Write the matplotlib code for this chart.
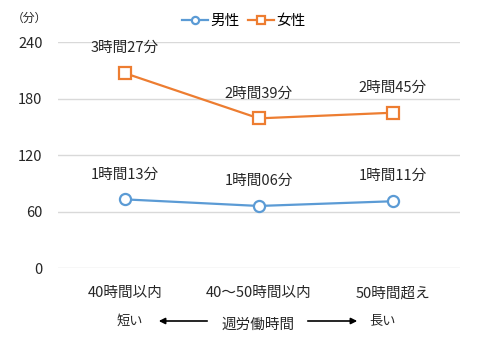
import matplotlib
matplotlib.use("Agg")
import matplotlib.pyplot as plt

plt.rcParams['font.family'] = ['Noto Sans CJK JP', 'DejaVu Sans']

categories = ["40時間以内", "40～50時間以内", "50時間超え"]
male = [73, 66, 71]
female = [207, 159, 165]
male_labels = ["1時間13分", "1時間06分", "1時間11分"]
female_labels = ["3時間27分", "2時間39分", "2時間45分"]
yticks = [0, 60, 120, 180, 240]

blue = "#5B9BD5"
orange = "#ED7D31"
txt = "#262626"

fig = plt.figure(figsize=(4.78, 3.42), dpi=100)
ax = fig.add_axes([0.121, 0.216, 0.841, 0.661])

x = range(len(categories))
ax.plot(x, male, color=blue, lw=1.6, marker="o", ms=8, mfc="white",
        mec=blue, mew=1.6, label="男性")
ax.plot(x, female, color=orange, lw=1.6, marker="s", ms=8, mfc="white",
        mec=orange, mew=1.6, label="女性")

for i in x:
    ax.annotate(male_labels[i], (i, male[i]), xytext=(0, 18), textcoords="offset points",
                ha="center", va="center", fontsize=10.5, color=txt)
    ax.annotate(female_labels[i], (i, female[i]), xytext=(0, 18), textcoords="offset points",
                ha="center", va="center", fontsize=10.5, color=txt)

ax.set_xlim(-0.5, 2.5)
ax.set_ylim(0, 240)
ax.set_yticks(yticks)
ax.set_xticks(list(x))
ax.set_xticklabels(categories)
ax.tick_params(length=0, labelsize=10.5, colors=txt)
ax.tick_params(axis="y", pad=11)
ax.tick_params(axis="x", pad=13)
ax.grid(axis="y", color="#D9D9D9", lw=1)
ax.set_axisbelow(True)
for s in ax.spines.values():
    s.set_visible(False)

fig.text(29 / 478, 1 - 18 / 342, "（分）", fontsize=8.5, color=txt, ha="center", va="center")

ax.legend(loc="center", bbox_to_anchor=(0.51, 1 - 21 / 342), bbox_transform=fig.transFigure,
          ncol=2, frameon=False, fontsize=10.5, handlelength=1.8, handletextpad=0.15,
          columnspacing=0.6, markerscale=0.65)

# bottom annotation row
yb = 1 - 321 / 342
fig.text(130 / 478, yb, "短い", fontsize=9.5, color=txt, ha="center", va="center")
fig.text(258 / 478, yb - 0.012, "週労働時間", fontsize=10.5, color=txt, ha="center", va="center")
fig.text(383 / 478, yb, "長い", fontsize=9.5, color=txt, ha="center", va="center")
fig.add_artist(matplotlib.patches.FancyArrowPatch((210 / 478, yb), (156 / 478, yb),
               transform=fig.transFigure, arrowstyle="-|>", mutation_scale=9, lw=1.2, color="black"))
fig.add_artist(matplotlib.patches.FancyArrowPatch((305 / 478, yb), (360 / 478, yb),
               transform=fig.transFigure, arrowstyle="-|>", mutation_scale=9, lw=1.2, color="black"))

fig.savefig("out.png", dpi=100)
